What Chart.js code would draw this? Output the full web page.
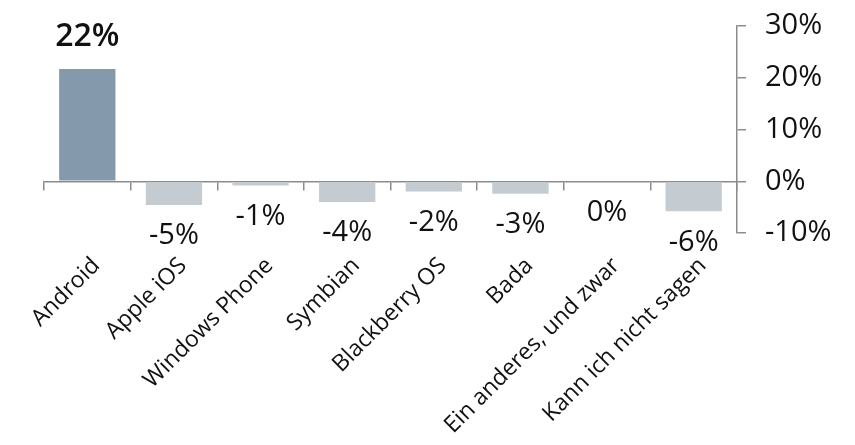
<!DOCTYPE html>
<html>
<head>
<meta charset="utf-8">
<script src="https://cdn.jsdelivr.net/npm/chart.js@4"></script>
<style>
  html, body { margin: 0; padding: 0; background: #fff; }
  #wrap { width: 855px; height: 445px; }
</style>
</head>
<body>
<div id="wrap"><canvas id="chart"></canvas></div>
<script>
const categories = ["Android", "Apple iOS", "Windows Phone", "Symbian", "Blackberry OS", "Bada", "Ein anderes, und zwar", "Kann ich nicht sagen"];
const values = [21.7, -4.6, -0.8, -4.0, -2.0, -2.4, 0, -5.8];
const valueLabels = ["22%", "-5%", "-1%", "-4%", "-2%", "-3%", "0%", "-6%"];
const yTicks = [-10, 0, 10, 20, 30];

const axisGrey = "#8c8c8c";
const barColors = values.map((v, i) => i === 0 ? "#8499ac" : "#c4ccd2");

// draws the value text above / below each bar
const valueLabelPlugin = {
  id: "valueLabels",
  afterDatasetsDraw(chart) {
    const ctx = chart.ctx;
    const meta = chart.getDatasetMeta(0);
    ctx.save();
    ctx.textAlign = "center";
    ctx.textBaseline = "middle";
    ctx.fillStyle = "#111";
    meta.data.forEach((bar, i) => {
      if (values[i] > 0) {
        ctx.font = "600 32px 'Open Sans'";
        ctx.fillText(valueLabels[i], bar.x, bar.y - 32);
      } else {
        ctx.font = "400 29px 'Open Sans'";
        ctx.fillText(valueLabels[i], bar.x, Math.max(bar.y, bar.base) + 31);
      }
    });
    ctx.restore();
  }
};

new Chart(document.getElementById("chart"), {
  type: "bar",
  data: {
    labels: categories,
    datasets: [{
      data: values,
      backgroundColor: barColors,
      categoryPercentage: 1,
      barPercentage: 0.65
    }]
  },
  options: {
    responsive: true,
    maintainAspectRatio: false,
    animation: false,
    layout: { padding: { left: 44, top: 26, right: 0, bottom: 212 } },
    plugins: {
      legend: { display: false },
      tooltip: { enabled: false }
    },
    scales: {
      x: {
        position: { y: 0 },
        afterFit: s => { s.paddingLeft = 0; s.paddingRight = 0; },
        grid: { drawOnChartArea: false, tickLength: 8, color: axisGrey, lineWidth: 1.5, offset: true },
        border: { color: axisGrey, width: 1.5 },
        ticks: {
          autoSkip: false,
          minRotation: 45,
          maxRotation: 45,
          padding: 63,
          labelOffset: 9,
          color: "#111",
          font: { family: "Open Sans", size: 23 }
        }
      },
      y: {
        position: "right",
        min: -10,
        max: 30,
        afterBuildTicks: s => { s.ticks = yTicks.map(v => ({ value: v })); },
        afterFit: s => { s.width = 118; s.paddingTop = 0; s.paddingBottom = 0; },
        grid: { drawOnChartArea: false, tickLength: 9, color: axisGrey, lineWidth: 1.5 },
        border: { color: axisGrey, width: 1.5 },
        ticks: {
          padding: 19,
          color: "#111",
          callback: v => v + "%",
          font: { family: "Open Sans", size: 29 }
        }
      }
    }
  },
  plugins: [valueLabelPlugin]
});
</script>
</body>
</html>
